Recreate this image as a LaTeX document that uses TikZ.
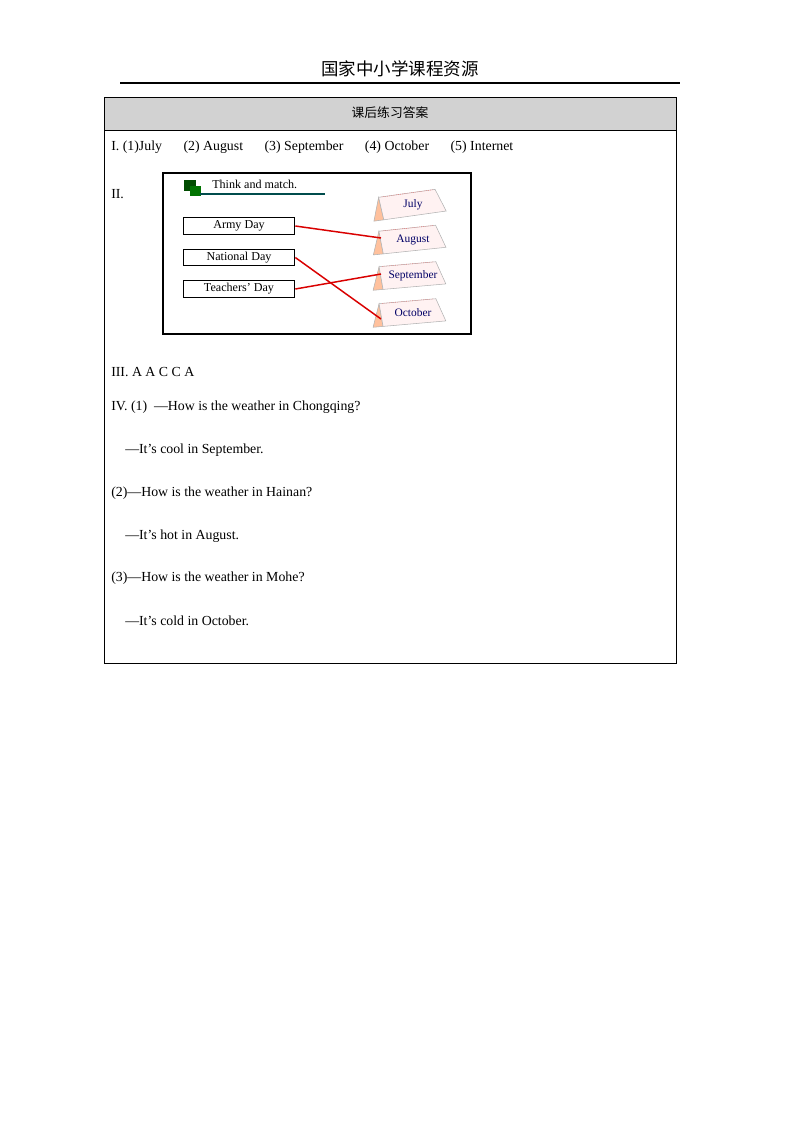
\documentclass[tikz,border=0pt]{standalone}
\usepackage{fontspec}
\setmainfont{Liberation Serif}
\newfontfamily\cjk{Noto Sans CJK SC}
\begin{document}
\begin{tikzpicture}[x=0.744pt,y=-0.744pt,
  txt/.style={anchor=west,inner sep=0,font=\fontsize{10.3}{12}\selectfont},
  dbox/.style={draw,thick,minimum width=83pt,minimum height=12.5pt,inner sep=0,font=\fontsize{9}{10}\selectfont},
  mline/.style={red!85!black,line width=1.1pt},
  calf/.style={fill=pink!20,draw=gray!60},
  calt/.style={fill=orange!40!pink!70,draw=gray!60}]
\useasboundingbox (0,0) rectangle (800,1132);
\node[font=\cjk\fontsize{13}{15}\selectfont] (hd) at (400,69) {国家中小学课程资源};
\draw[thick] (120,83) -- (680,83);
\draw[fill=gray!35] (104,97) rectangle (676,130);
\draw (104,130) rectangle (676,663);
\node[font=\cjk\fontsize{9.5}{11}\selectfont] (th) at (390,113) {课后练习答案};
\node[txt] (l1) at (111,147) {I. (1)July\hspace{16pt}(2) August\hspace{16pt}(3) September\hspace{16pt}(4) October\hspace{16pt}(5) Internet};
\node[txt] (l2) at (111,194) {II.};
\node[txt] (l3) at (111,372) {III. A A C C A};
\node[txt] (l4) at (111,407) {IV. (1)\ \ —How is the weather in Chongqing?};
\node[txt] (l5) at (125,450) {—It’s cool in September.};
\node[txt] (l6) at (111,493) {(2)—How is the weather in Hainan?};
\node[txt] (l7) at (125,536) {—It’s hot in August.};
\node[txt] (l8) at (111,578) {(3)—How is the weather in Mohe?};
\node[txt] (l9) at (125,621) {—It’s cold in October.};
% picture
\draw[thick] (163,173) rectangle (471,334);
\fill[green!30!black] (184,180) rectangle (196,191);
\fill[green!45!black] (190,186) rectangle (201,196);
\node[anchor=west,inner sep=0,font=\fontsize{9}{10}\selectfont] (tm) at (212,184) {Think and match.};
\draw[teal!60!black,thick] (200,194) -- (325,194);
\node[dbox] (a) at (239,226) {Army Day};
\node[dbox] (n) at (239,257.5) {National Day};
\node[dbox] (t) at (239,289) {Teachers’ Day};
\foreach \y/\m/\r in {205/July/8, 240/August/6, 276/September/5, 313/October/5}{
  \begin{scope}[shift={(410,\y)},rotate=\r]
  \draw[calt] (-38,11) -- (-30,-12) -- (-28,11) -- cycle;
  \draw[calf] (-30,-12) -- (27,-12) -- (35,11) -- (-28,11) -- cycle;
  \draw[red!60,densely dotted] (-27,-12) -- (25,-12);
  \node[font=\fontsize{8.5}{9}\selectfont,text=blue!40!black] (c\m) at (3,0) {\m};
  \end{scope}}
\coordinate (pa) at (381,238);
\coordinate (ps) at (381,274);
\coordinate (po) at (381,319);
\draw[mline] (a.east) -- (pa);
\draw[mline] (n.east) -- (po);
\draw[mline] (t.east) -- (ps);
\end{tikzpicture}
\end{document}
